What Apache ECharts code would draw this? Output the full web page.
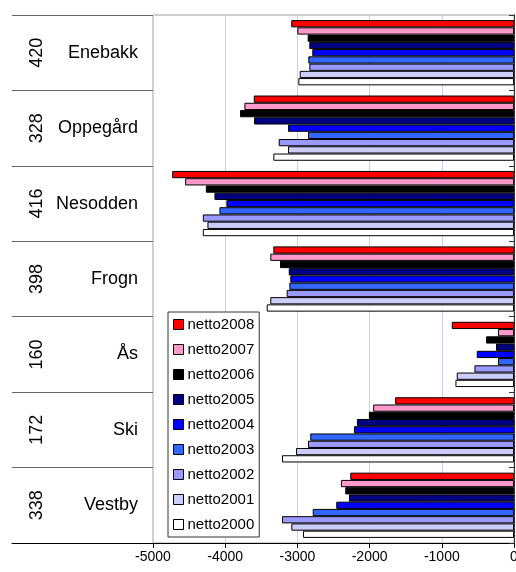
<!DOCTYPE html>
<html>
<head>
<meta charset="utf-8">
<script src="https://cdn.jsdelivr.net/npm/echarts@6/dist/echarts.min.js"></script>
<style>
  html, body { margin: 0; padding: 0; background: #fff; }
  #chart { width: 516px; height: 572px; }
</style>
</head>
<body>
<div id="chart"></div>
<script>
// kommuner, top to bottom
const names = ['Enebakk', 'Oppegård', 'Nesodden', 'Frogn', 'Ås', 'Ski', 'Vestby']
const codes = ['420', '328', '416', '398', '160', '172', '338']
const xTicks = [-5000, -4000, -3000, -2000, -1000, 0]

const netto2008 = [-3085, -3604, -4734, -3333, -862, -1646, -2268]
const netto2007 = [-3001, -3734, -4555, -3375, -221, -1950, -2397]
const netto2006 = [-2858, -3794, -4268, -3241, -387, -2010, -2337]
const netto2005 = [-2835, -3600, -4149, -3120, -249, -2176, -2286]
const netto2004 = [-2794, -3130, -3983, -3098, -516, -2217, -2462]
const netto2003 = [-2849, -2853, -4080, -3111, -221, -2822, -2788]
const netto2002 = [-2835, -3259, -4310, -3148, -548, -2853, -3213]
const netto2001 = [-2968, -3130, -4246, -3375, -793, -3019, -3084]
const netto2000 = [-2987, -3333, -4310, -3425, -811, -3213, -2922]

const seriesNames = ['netto2008', 'netto2007', 'netto2006', 'netto2005', 'netto2004',
  'netto2003', 'netto2002', 'netto2001', 'netto2000']
const seriesData = [netto2008, netto2007, netto2006, netto2005, netto2004,
  netto2003, netto2002, netto2001, netto2000]
const colors = ['#FF0000', '#FF99CC', '#000000', '#000080', '#0000FF',
  '#3366FF', '#9999FF', '#CCCCFF', '#FFFFFF']

const font = 'Liberation Sans, Arial, sans-serif'
const chart = echarts.init(document.getElementById('chart'))

chart.setOption({
  animation: false,
  textStyle: { fontFamily: font },
  grid: [
    {
      left: 153, right: 2, top: 15, bottom: 29,
      outerBoundsMode: 'none',
      show: true, borderColor: '#A0A0A0', borderWidth: 1
    },
    // label "table" on the left
    { left: 12, width: 141, top: 15, bottom: 29, outerBoundsMode: 'none' }
  ],
  legend: {
    orient: 'vertical',
    left: 168, top: 312,
    data: seriesNames,
    backgroundColor: '#fff',
    borderColor: '#333', borderWidth: 1,
    padding: [5, 5, 5, 5],
    itemGap: 10,
    itemWidth: 10, itemHeight: 10,
    icon: 'rect',
    itemStyle: { borderColor: '#000', borderWidth: 1 },
    textStyle: { fontSize: 15, color: '#000', fontFamily: font, padding: [0, 0, 0, -1] }
  },
  xAxis: [
    {
      type: 'value',
      min: xTicks[0], max: xTicks[xTicks.length - 1], interval: 1000,
      axisLine: { show: true, onZero: false, lineStyle: { color: '#000' } },
      axisTick: { show: true, length: 5, lineStyle: { color: '#000' } },
      axisLabel: { fontSize: 14, color: '#000', margin: 7, formatter: v => String(v) },
      splitLine: { show: true, lineStyle: { color: '#CCCCFF' } }
    },
    {
      gridIndex: 1, type: 'value', min: 0, max: 1,
      axisLine: { show: true, onZero: false, lineStyle: { color: '#000' } },
      axisTick: { show: false }, axisLabel: { show: false }, splitLine: { show: false }
    }
  ],
  yAxis: [
    {
      type: 'category', inverse: true, data: names, position: 'left',
      axisLine: { show: true, lineStyle: { color: '#808080' } },
      axisTick: { show: false },
      axisLabel: { fontSize: 18, color: '#000', margin: 15 }
    },
    {
      type: 'category', inverse: true, data: codes, position: 'left',
      axisLine: { show: false }, axisTick: { show: false },
      axisLabel: { fontSize: 18, color: '#000', rotate: 90, margin: 107 }
    },
    {
      type: 'category', inverse: true, data: names, position: 'right',
      axisLine: { show: true, lineStyle: { color: '#333' } },
      axisTick: { show: true, inside: true, interval: 0, length: 5, lineStyle: { color: '#333' } },
      axisLabel: { show: false }
    },
    {
      gridIndex: 1, type: 'category', inverse: true, data: names,
      axisLine: { show: false }, axisTick: { show: false }, axisLabel: { show: false },
      splitLine: { show: true, interval: 0, lineStyle: { color: '#666' } }
    }
  ],
  series: seriesNames.map((name, i) => ({
    name,
    type: 'bar',
    yAxisIndex: 0,
    data: seriesData[i],
    barGap: '0%',
    barCategoryGap: '13.5%',
    itemStyle: { color: colors[i], borderColor: '#000', borderWidth: 1 }
  }))
})
</script>
</body>
</html>
